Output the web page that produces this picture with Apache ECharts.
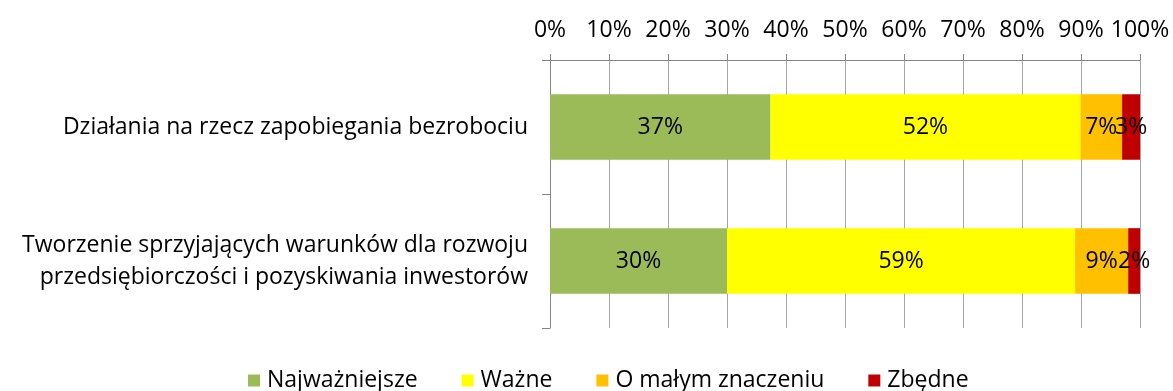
<!DOCTYPE html>
<html>
<head>
<meta charset="utf-8">
<script src="https://cdn.jsdelivr.net/npm/echarts@6/dist/echarts.min.js"></script>
<style>
  html, body { margin: 0; padding: 0; background: #fff; }
  #chart { width: 1173px; height: 391px; }
</style>
</head>
<body>
<div id="chart"></div>
<script>
// Survey answers per task, in percent of respondents
const categories = [
  'Działania na rzecz zapobiegania bezrobociu',
  'Tworzenie sprzyjających warunków dla rozwoju\nprzedsiębiorczości i pozyskiwania inwestorów'
];
const seriesNames = ['Najważniejsze', 'Ważne', 'O małym znaczeniu', 'Zbędne'];
const najwazniejsze = [37, 30];
const wazne = [52, 59];
const oMalymZnaczeniu = [7, 9];
const zbedne = [3, 2];
const tickLabels = ['0%', '10%', '20%', '30%', '40%', '50%', '60%', '70%', '80%', '90%', '100%'];

const colors = ['#9BBB59', '#FFFF00', '#FFC000', '#C00000'];
const rows = [najwazniejsze, wazne, oMalymZnaczeniu, zbedne];

// 100% stacking: each bar is scaled by its category total
const totals = categories.map((_, i) => rows.reduce((s, r) => s + r[i], 0));

const font = '"Open Sans", sans-serif';
const fs = 23;

const series = rows.map((vals, k) => ({
  name: seriesNames[k],
  type: 'bar',
  stack: 'total',
  barWidth: '49%',
  itemStyle: { color: colors[k] },
  label: {
    show: true,
    position: 'inside',
    color: '#000',
    fontSize: fs,
    fontFamily: font,
    formatter: p => vals[p.dataIndex] + '%'
  },
  data: vals.map((v, i) => v / totals[i] * 100)
}));

const chart = echarts.init(document.getElementById('chart'), null, { renderer: 'canvas' });
chart.setOption({
  animation: false,
  textStyle: { fontFamily: font },
  grid: { left: 550, right: 33, top: 60, bottom: 63 },
  legend: {
    bottom: -1,
    left: 243,
    padding: [0, 5],
    icon: 'rect',
    itemWidth: 12,
    itemHeight: 12,
    itemGap: 44,
    textStyle: { fontSize: fs, color: '#000', fontFamily: font, padding: [0, 0, 0, 2] },
    data: seriesNames
  },
  xAxis: {
    type: 'value',
    position: 'top',
    min: 0,
    max: 100,
    interval: 10,
    axisLine: { show: true, lineStyle: { color: '#868686' } },
    axisTick: { show: true, length: 6, lineStyle: { color: '#868686' } },
    splitLine: { show: true, lineStyle: { color: '#A6A6A6' } },
    axisLabel: {
      color: '#000',
      fontSize: fs,
      fontFamily: font,
      margin: 18,
      formatter: v => tickLabels[Math.round(v / 10)]
    }
  },
  yAxis: {
    type: 'category',
    inverse: true,
    data: categories,
    axisLine: { show: true, lineStyle: { color: '#868686' } },
    axisTick: { show: true, length: 8, lineStyle: { color: '#868686' } },
    axisLabel: {
      color: '#000',
      fontSize: fs,
      fontFamily: font,
      margin: 22,
      lineHeight: 32,
      align: 'right'
    }
  },
  series
});
</script>
</body>
</html>
